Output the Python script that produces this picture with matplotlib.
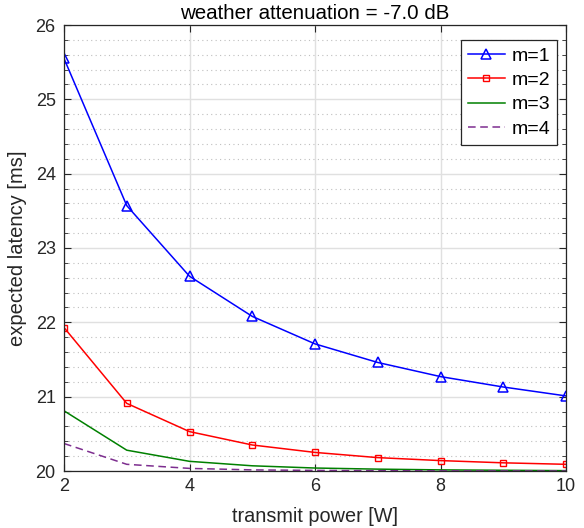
import matplotlib
matplotlib.use("Agg")
import matplotlib.pyplot as plt
from matplotlib.ticker import MultipleLocator

plt.rcParams["font.family"] = ["Liberation Sans", "DejaVu Sans"]

# transmit power [W]
power = [2, 3, 4, 5, 6, 7, 8, 9, 10]

# expected latency [ms] for each m
lat_m1 = [25.55, 23.57, 22.62, 22.08, 21.71, 21.46, 21.27, 21.13, 21.01]
lat_m2 = [21.93, 20.91, 20.53, 20.35, 20.25, 20.18, 20.14, 20.11, 20.09]
lat_m3 = [20.81, 20.28, 20.13, 20.07, 20.04, 20.025, 20.015, 20.01, 20.005]
lat_m4 = [20.37, 20.09, 20.035, 20.015, 20.008, 20.004, 20.002, 20.001, 20.0]

W, H = 584, 528
ax_l, ax_r, ax_t, ax_b = 64, 566, 25, 471

fig = plt.figure(figsize=(W / 100, H / 100), dpi=100)
ax = fig.add_axes([ax_l / W, (H - ax_b) / H, (ax_r - ax_l) / W, (ax_b - ax_t) / H])

ax.plot(power, lat_m1, color="blue", lw=1.1, marker="^", ms=7,
        mfc="none", mec="blue", mew=1.1, label="m=1")
ax.plot(power, lat_m2, color="red", lw=1.1, marker="s", ms=5,
        mfc="none", mec="red", mew=1.0, label="m=2")
ax.plot(power, lat_m3, color=(0, 0.5, 0), lw=1.1, label="m=3")
ax.plot(power, lat_m4, color=(0.49, 0.18, 0.56), lw=1.1, ls=(0, (5, 3)),
        label="m=4")

ax.set_xlim(2, 10)
ax.set_ylim(20, 26)
ax.xaxis.set_major_locator(MultipleLocator(2))
ax.yaxis.set_major_locator(MultipleLocator(1))
ax.yaxis.set_minor_locator(MultipleLocator(0.2))

ax.grid(True, which="major", color="0.88", lw=1.0)
ax.grid(True, which="minor", axis="y", color="0.75", lw=0.8, ls=(0, (1, 3)))
ax.set_axisbelow(True)

ax.tick_params(which="both", direction="in", top=True, right=True,
               labelsize=13, colors="0.15")
ax.tick_params(which="major", length=5)
ax.tick_params(which="minor", length=3)
ax.tick_params(axis="y", pad=6)
ax.tick_params(axis="x", pad=5)
ax.tick_params(axis="x", which="minor", top=False, bottom=False)
for s in ax.spines.values():
    s.set_color("0.15")
    s.set_linewidth(0.9)

ax.set_xlabel("transmit power [W]", fontsize=14.3, color="0.15", labelpad=9)
ax.set_ylabel("expected latency [ms]", fontsize=14.5, color="0.15", labelpad=6)
ax.set_title("weather attenuation = -7.0 dB", fontsize=14.8, pad=4)

leg = ax.legend(loc="upper right", bbox_to_anchor=(0.982, 0.966),
                borderaxespad=0, fontsize=14, fancybox=False,
                edgecolor="0.15", framealpha=1, handlelength=1.9,
                handletextpad=0.35, labelspacing=0.35, borderpad=0.35)
leg.get_frame().set_linewidth(0.9)

fig.savefig("out.png", dpi=100)
